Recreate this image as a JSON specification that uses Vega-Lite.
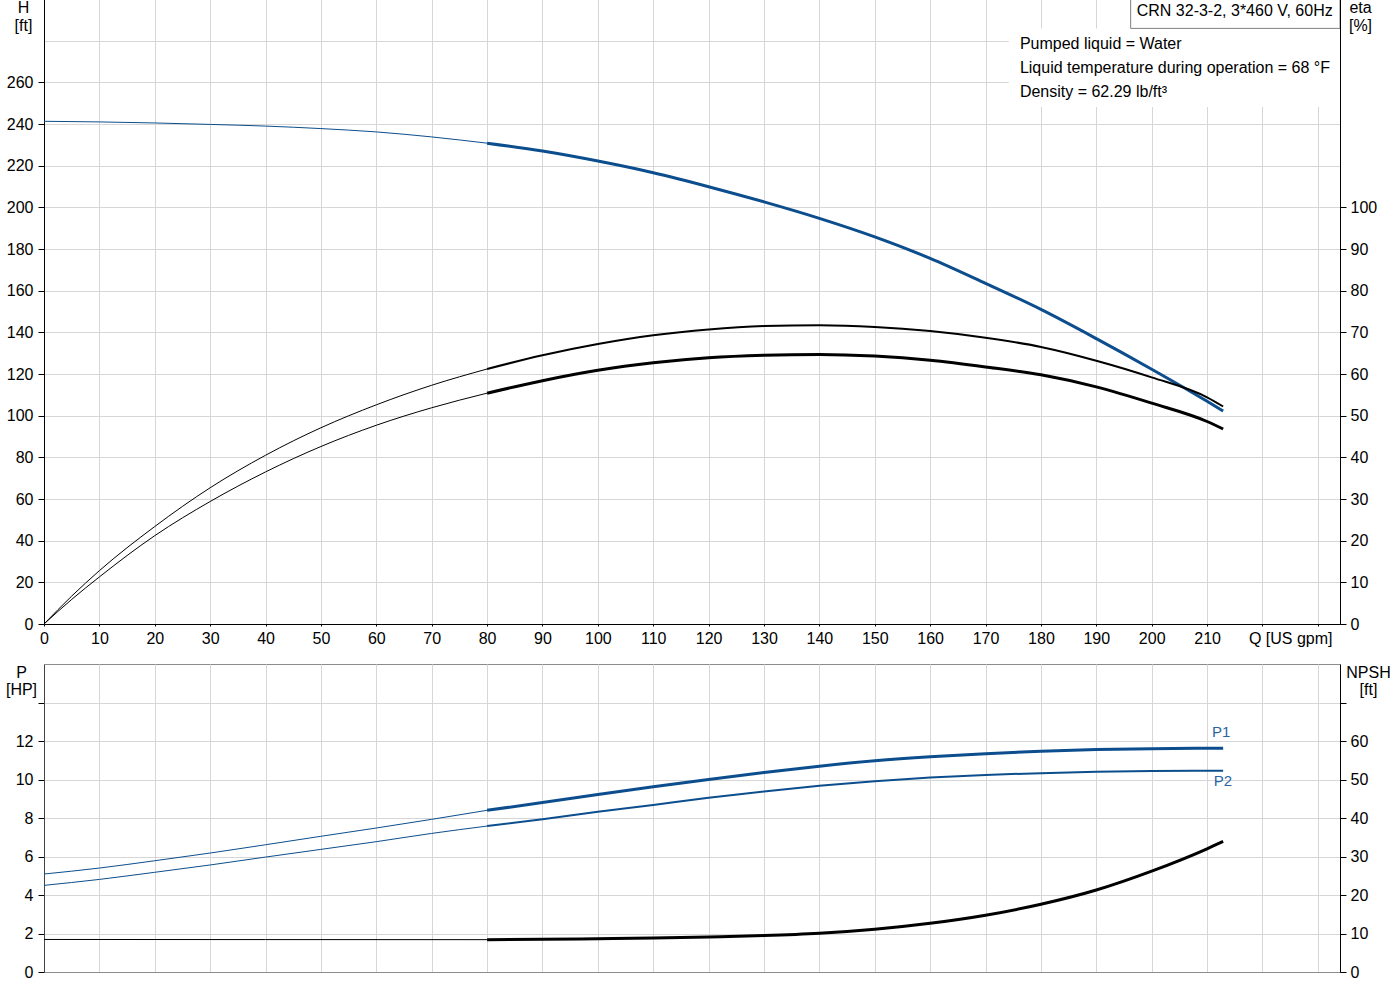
{
  "$schema": "https://vega.github.io/schema/vega-lite/v6.json",
  "description": "CRN 32-3-2 pump curves: head, efficiency, power and NPSH against flow",
  "background": "white",
  "padding": {"left": 4, "top": -2, "right": 0, "bottom": 0},
  "config": {
    "font": "Liberation Sans",
    "view": {"stroke": null},
    "axis": {
      "labelFont": "Liberation Sans", "labelFontSize": 16, "labelColor": "#000",
      "titleFont": "Liberation Sans", "titleFontSize": 16, "titleFontWeight": "normal", "titleColor": "#000",
      "gridColor": "#d6d6d6", "tickColor": "#000", "domainColor": "#000"
    },
    "text": {"font": "Liberation Sans", "fontSize": 16}
  },
  "datasets": {
    "curves": [
      {"Q": 0, "val": 241.3, "curve": "H", "range": "extended"},
      {"Q": 10, "val": 241.0, "curve": "H", "range": "extended"},
      {"Q": 20, "val": 240.5, "curve": "H", "range": "extended"},
      {"Q": 30, "val": 239.8, "curve": "H", "range": "extended"},
      {"Q": 40, "val": 239.0, "curve": "H", "range": "extended"},
      {"Q": 50, "val": 237.8, "curve": "H", "range": "extended"},
      {"Q": 60, "val": 236.2, "curve": "H", "range": "extended"},
      {"Q": 70, "val": 233.8, "curve": "H", "range": "extended"},
      {"Q": 80, "val": 230.8, "curve": "H", "range": "extended"},
      {"Q": 80, "val": 230.8, "curve": "H", "range": "duty"},
      {"Q": 90, "val": 227.0, "curve": "H", "range": "duty"},
      {"Q": 100, "val": 222.2, "curve": "H", "range": "duty"},
      {"Q": 110, "val": 216.6, "curve": "H", "range": "duty"},
      {"Q": 120, "val": 209.9, "curve": "H", "range": "duty"},
      {"Q": 130, "val": 202.6, "curve": "H", "range": "duty"},
      {"Q": 140, "val": 194.7, "curve": "H", "range": "duty"},
      {"Q": 150, "val": 185.8, "curve": "H", "range": "duty"},
      {"Q": 160, "val": 175.5, "curve": "H", "range": "duty"},
      {"Q": 170, "val": 163.5, "curve": "H", "range": "duty"},
      {"Q": 180, "val": 151.0, "curve": "H", "range": "duty"},
      {"Q": 190, "val": 137.0, "curve": "H", "range": "duty"},
      {"Q": 200, "val": 122.3, "curve": "H", "range": "duty"},
      {"Q": 210, "val": 106.9, "curve": "H", "range": "duty"},
      {"Q": 212.9, "val": 102.2, "curve": "H", "range": "duty"},

      {"Q": 0, "val": 0, "curve": "eta_pump", "range": "extended"},
      {"Q": 5, "val": 6.7, "curve": "eta_pump", "range": "extended"},
      {"Q": 10, "val": 12.8, "curve": "eta_pump", "range": "extended"},
      {"Q": 20, "val": 23.4, "curve": "eta_pump", "range": "extended"},
      {"Q": 30, "val": 32.7, "curve": "eta_pump", "range": "extended"},
      {"Q": 40, "val": 40.5, "curve": "eta_pump", "range": "extended"},
      {"Q": 50, "val": 47.1, "curve": "eta_pump", "range": "extended"},
      {"Q": 60, "val": 52.6, "curve": "eta_pump", "range": "extended"},
      {"Q": 70, "val": 57.3, "curve": "eta_pump", "range": "extended"},
      {"Q": 80, "val": 61.2, "curve": "eta_pump", "range": "extended"},
      {"Q": 80, "val": 61.2, "curve": "eta_pump", "range": "duty"},
      {"Q": 90, "val": 64.5, "curve": "eta_pump", "range": "duty"},
      {"Q": 100, "val": 67.2, "curve": "eta_pump", "range": "duty"},
      {"Q": 110, "val": 69.3, "curve": "eta_pump", "range": "duty"},
      {"Q": 120, "val": 70.7, "curve": "eta_pump", "range": "duty"},
      {"Q": 130, "val": 71.5, "curve": "eta_pump", "range": "duty"},
      {"Q": 140, "val": 71.7, "curve": "eta_pump", "range": "duty"},
      {"Q": 150, "val": 71.3, "curve": "eta_pump", "range": "duty"},
      {"Q": 160, "val": 70.3, "curve": "eta_pump", "range": "duty"},
      {"Q": 170, "val": 68.7, "curve": "eta_pump", "range": "duty"},
      {"Q": 180, "val": 66.5, "curve": "eta_pump", "range": "duty"},
      {"Q": 190, "val": 63.2, "curve": "eta_pump", "range": "duty"},
      {"Q": 200, "val": 59.2, "curve": "eta_pump", "range": "duty"},
      {"Q": 210, "val": 54.4, "curve": "eta_pump", "range": "duty"},
      {"Q": 212.9, "val": 52.2, "curve": "eta_pump", "range": "duty"},

      {"Q": 0, "val": 0, "curve": "eta_total", "range": "extended"},
      {"Q": 5, "val": 5.9, "curve": "eta_total", "range": "extended"},
      {"Q": 10, "val": 11.3, "curve": "eta_total", "range": "extended"},
      {"Q": 20, "val": 21.2, "curve": "eta_total", "range": "extended"},
      {"Q": 30, "val": 29.4, "curve": "eta_total", "range": "extended"},
      {"Q": 40, "val": 36.5, "curve": "eta_total", "range": "extended"},
      {"Q": 50, "val": 42.6, "curve": "eta_total", "range": "extended"},
      {"Q": 60, "val": 47.7, "curve": "eta_total", "range": "extended"},
      {"Q": 70, "val": 51.9, "curve": "eta_total", "range": "extended"},
      {"Q": 80, "val": 55.4, "curve": "eta_total", "range": "extended"},
      {"Q": 80, "val": 55.4, "curve": "eta_total", "range": "duty"},
      {"Q": 90, "val": 58.4, "curve": "eta_total", "range": "duty"},
      {"Q": 100, "val": 60.9, "curve": "eta_total", "range": "duty"},
      {"Q": 110, "val": 62.7, "curve": "eta_total", "range": "duty"},
      {"Q": 120, "val": 63.9, "curve": "eta_total", "range": "duty"},
      {"Q": 130, "val": 64.5, "curve": "eta_total", "range": "duty"},
      {"Q": 140, "val": 64.7, "curve": "eta_total", "range": "duty"},
      {"Q": 150, "val": 64.3, "curve": "eta_total", "range": "duty"},
      {"Q": 160, "val": 63.3, "curve": "eta_total", "range": "duty"},
      {"Q": 170, "val": 61.7, "curve": "eta_total", "range": "duty"},
      {"Q": 180, "val": 59.8, "curve": "eta_total", "range": "duty"},
      {"Q": 190, "val": 56.9, "curve": "eta_total", "range": "duty"},
      {"Q": 200, "val": 53.0, "curve": "eta_total", "range": "duty"},
      {"Q": 210, "val": 48.6, "curve": "eta_total", "range": "duty"},
      {"Q": 212.9, "val": 46.8, "curve": "eta_total", "range": "duty"},

      {"Q": 0, "val": 5.09, "curve": "P1", "range": "extended"},
      {"Q": 10, "val": 5.40, "curve": "P1", "range": "extended"},
      {"Q": 20, "val": 5.78, "curve": "P1", "range": "extended"},
      {"Q": 30, "val": 6.18, "curve": "P1", "range": "extended"},
      {"Q": 40, "val": 6.61, "curve": "P1", "range": "extended"},
      {"Q": 50, "val": 7.05, "curve": "P1", "range": "extended"},
      {"Q": 60, "val": 7.48, "curve": "P1", "range": "extended"},
      {"Q": 70, "val": 7.93, "curve": "P1", "range": "extended"},
      {"Q": 80, "val": 8.40, "curve": "P1", "range": "extended"},
      {"Q": 80, "val": 8.40, "curve": "P1", "range": "duty"},
      {"Q": 90, "val": 8.80, "curve": "P1", "range": "duty"},
      {"Q": 100, "val": 9.22, "curve": "P1", "range": "duty"},
      {"Q": 110, "val": 9.62, "curve": "P1", "range": "duty"},
      {"Q": 120, "val": 10.00, "curve": "P1", "range": "duty"},
      {"Q": 130, "val": 10.36, "curve": "P1", "range": "duty"},
      {"Q": 140, "val": 10.69, "curve": "P1", "range": "duty"},
      {"Q": 150, "val": 10.97, "curve": "P1", "range": "duty"},
      {"Q": 160, "val": 11.18, "curve": "P1", "range": "duty"},
      {"Q": 170, "val": 11.34, "curve": "P1", "range": "duty"},
      {"Q": 180, "val": 11.47, "curve": "P1", "range": "duty"},
      {"Q": 190, "val": 11.56, "curve": "P1", "range": "duty"},
      {"Q": 200, "val": 11.60, "curve": "P1", "range": "duty"},
      {"Q": 210, "val": 11.62, "curve": "P1", "range": "duty"},
      {"Q": 212.9, "val": 11.62, "curve": "P1", "range": "duty"},

      {"Q": 0, "val": 4.50, "curve": "P2", "range": "extended"},
      {"Q": 10, "val": 4.81, "curve": "P2", "range": "extended"},
      {"Q": 20, "val": 5.18, "curve": "P2", "range": "extended"},
      {"Q": 30, "val": 5.56, "curve": "P2", "range": "extended"},
      {"Q": 40, "val": 5.97, "curve": "P2", "range": "extended"},
      {"Q": 50, "val": 6.37, "curve": "P2", "range": "extended"},
      {"Q": 60, "val": 6.77, "curve": "P2", "range": "extended"},
      {"Q": 70, "val": 7.20, "curve": "P2", "range": "extended"},
      {"Q": 80, "val": 7.58, "curve": "P2", "range": "extended"},
      {"Q": 80, "val": 7.58, "curve": "P2", "range": "duty"},
      {"Q": 90, "val": 7.94, "curve": "P2", "range": "duty"},
      {"Q": 100, "val": 8.32, "curve": "P2", "range": "duty"},
      {"Q": 110, "val": 8.68, "curve": "P2", "range": "duty"},
      {"Q": 120, "val": 9.05, "curve": "P2", "range": "duty"},
      {"Q": 130, "val": 9.38, "curve": "P2", "range": "duty"},
      {"Q": 140, "val": 9.67, "curve": "P2", "range": "duty"},
      {"Q": 150, "val": 9.91, "curve": "P2", "range": "duty"},
      {"Q": 160, "val": 10.10, "curve": "P2", "range": "duty"},
      {"Q": 170, "val": 10.24, "curve": "P2", "range": "duty"},
      {"Q": 180, "val": 10.33, "curve": "P2", "range": "duty"},
      {"Q": 190, "val": 10.40, "curve": "P2", "range": "duty"},
      {"Q": 200, "val": 10.44, "curve": "P2", "range": "duty"},
      {"Q": 210, "val": 10.46, "curve": "P2", "range": "duty"},
      {"Q": 212.9, "val": 10.46, "curve": "P2", "range": "duty"},

      {"Q": 0, "val": 8.45, "curve": "NPSH", "range": "extended"},
      {"Q": 40, "val": 8.42, "curve": "NPSH", "range": "extended"},
      {"Q": 80, "val": 8.4, "curve": "NPSH", "range": "extended"},
      {"Q": 80, "val": 8.4, "curve": "NPSH", "range": "duty"},
      {"Q": 90, "val": 8.5, "curve": "NPSH", "range": "duty"},
      {"Q": 100, "val": 8.65, "curve": "NPSH", "range": "duty"},
      {"Q": 110, "val": 8.85, "curve": "NPSH", "range": "duty"},
      {"Q": 120, "val": 9.1, "curve": "NPSH", "range": "duty"},
      {"Q": 130, "val": 9.45, "curve": "NPSH", "range": "duty"},
      {"Q": 140, "val": 10.05, "curve": "NPSH", "range": "duty"},
      {"Q": 150, "val": 11.1, "curve": "NPSH", "range": "duty"},
      {"Q": 160, "val": 12.65, "curve": "NPSH", "range": "duty"},
      {"Q": 170, "val": 14.75, "curve": "NPSH", "range": "duty"},
      {"Q": 180, "val": 17.6, "curve": "NPSH", "range": "duty"},
      {"Q": 190, "val": 21.3, "curve": "NPSH", "range": "duty"},
      {"Q": 200, "val": 26.2, "curve": "NPSH", "range": "duty"},
      {"Q": 210, "val": 32.0, "curve": "NPSH", "range": "duty"},
      {"Q": 212.9, "val": 33.9, "curve": "NPSH", "range": "duty"}
    ],
    "boxes": [
      {"box": "model", "q0": 196.2, "q1": 234, "h0": 285.9, "h1": 300},
      {"box": "liquid", "q0": 174.2, "q1": 234, "h0": 248.2, "h1": 285.9}
    ],
    "notes": [
      {"note": "CRN 32-3-2, 3*460 V, 60Hz", "q": 197.3, "h": 291.7},
      {"note": "Pumped liquid = Water", "q": 176.2, "h": 276.0},
      {"note": "Liquid temperature during operation = 68 °F", "q": 176.2, "h": 264.5},
      {"note": "Density = 62.29 lb/ft³", "q": 176.2, "h": 253.1}
    ],
    "tags": [
      {"tag": "P1", "Q": 210.9, "val": 12.19},
      {"tag": "P2", "Q": 211.2, "val": 9.68}
    ]
  },
  "spacing": 40,
  "bounds": "flush",
  "vconcat": [
    {
      "width": 1296,
      "height": 625,
      "layer": [
        {
          "layer": [
            {
              "data": {"name": "curves"},
              "transform": [{"filter": "datum.curve == 'H'"}],
              "mark": {"type": "line", "interpolate": "monotone", "color": "#0c4d8d"},
              "encoding": {
                "x": {
                  "field": "Q", "type": "quantitative",
                  "scale": {"domain": [0, 234], "nice": false},
                  "axis": {
                    "values": [0, 10, 20, 30, 40, 50, 60, 70, 80, 90, 100, 110, 120, 130, 140, 150, 160, 170, 180, 190, 200, 210, 220, 230],
                    "labelExpr": "datum.value > 210 ? '' : datum.label",
                    "tickSize": 2, "labelPadding": 4, "labelFlush": false, "labelOverlap": false,
                    "title": "Q [US gpm]", "titleAlign": "right", "titleAnchor": null,
                    "titleX": 1288, "titleY": 6, "titleBaseline": "top"
                  }
                },
                "y": {
                  "field": "val", "type": "quantitative",
                  "scale": {"domain": [0, 300], "nice": false},
                  "axis": {
                    "values": [0, 20, 40, 60, 80, 100, 120, 140, 160, 180, 200, 220, 240, 260, 280],
                    "labelExpr": "datum.value > 260 ? '' : datum.label",
                    "tickOpacity": {"condition": {"test": "datum.value > 260", "value": 0}, "value": 1},
                    "tickSize": 6, "labelPadding": 5, "labelFlush": false, "labelOverlap": false,
                    "title": ["H", "[ft]"], "titleAngle": 0, "titleAlign": "center", "titleBaseline": "top",
                    "titleX": -21, "titleY": 0, "titleLineHeight": 18
                  }
                },
                "detail": {"field": "range"},
                "strokeWidth": {"condition": {"test": "datum.range == 'extended'", "value": 1}, "value": 3}
              }
            },
            {
              "data": {"name": "boxes"},
              "transform": [{"filter": "datum.box == 'liquid'"}],
              "mark": {"type": "rect", "fill": "white", "strokeWidth": 0},
              "encoding": {
                "x": {"field": "q0", "type": "quantitative", "scale": {"domain": [0, 234], "nice": false}},
                "x2": {"field": "q1"},
                "y": {"field": "h0", "type": "quantitative", "scale": {"domain": [0, 300], "nice": false}},
                "y2": {"field": "h1"}
              }
            },
            {
              "data": {"name": "boxes"},
              "transform": [{"filter": "datum.box == 'model'"}],
              "mark": {"type": "rect", "fill": "white", "stroke": "#808080", "strokeWidth": 1},
              "encoding": {
                "x": {"field": "q0", "type": "quantitative", "scale": {"domain": [0, 234], "nice": false}},
                "x2": {"field": "q1"},
                "y": {"field": "h0", "type": "quantitative", "scale": {"domain": [0, 300], "nice": false}},
                "y2": {"field": "h1"}
              }
            },
            {
              "data": {"name": "notes"},
              "mark": {"type": "text", "align": "left", "baseline": "alphabetic", "fontSize": 16, "color": "#000"},
              "encoding": {
                "x": {"field": "q", "type": "quantitative", "scale": {"domain": [0, 234], "nice": false}},
                "y": {"field": "h", "type": "quantitative", "scale": {"domain": [0, 300], "nice": false}},
                "text": {"field": "note"}
              }
            }
          ]
        },
        {
          "data": {"name": "curves"},
          "transform": [{"filter": "datum.curve == 'eta_pump' || datum.curve == 'eta_total'"}],
          "mark": {"type": "line", "interpolate": "monotone", "color": "#000"},
          "encoding": {
            "x": {"field": "Q", "type": "quantitative", "scale": {"domain": [0, 234], "nice": false}},
            "y": {
              "field": "val", "type": "quantitative",
              "scale": {"domain": [0, 150], "nice": false},
              "axis": {
                "orient": "right", "grid": false, "zindex": 1,
                "values": [0, 10, 20, 30, 40, 50, 60, 70, 80, 90, 100],
                "tickSize": 6, "labelPadding": 4, "labelFlush": false, "labelOverlap": false,
                "title": ["eta", "[%]"], "titleAngle": 0, "titleAlign": "center", "titleBaseline": "top",
                "titleX": 20, "titleY": 0, "titleLineHeight": 18
              }
            },
            "detail": [{"field": "curve"}, {"field": "range"}],
            "strokeWidth": {
              "condition": [
                {"test": "datum.range == 'extended'", "value": 1},
                {"test": "datum.curve == 'eta_pump'", "value": 2}
              ],
              "value": 3
            }
          }
        }
      ],
      "resolve": {"scale": {"y": "independent"}, "axis": {"y": "independent"}}
    },
    {
      "width": 1296,
      "height": 308,
      "view": {"stroke": "#8c8c8c"},
      "layer": [
        {
          "layer": [
            {
              "data": {"name": "curves"},
              "transform": [{"filter": "datum.curve == 'P1' || datum.curve == 'P2'"}],
              "mark": {"type": "line", "interpolate": "monotone", "color": "#0c4d8d"},
              "encoding": {
                "x": {
                  "field": "Q", "type": "quantitative",
                  "scale": {"domain": [0, 234], "nice": false},
                  "axis": {
                    "values": [0, 10, 20, 30, 40, 50, 60, 70, 80, 90, 100, 110, 120, 130, 140, 150, 160, 170, 180, 190, 200, 210, 220, 230],
                    "labels": false, "ticks": false, "domainColor": "#8c8c8c", "title": null
                  }
                },
                "y": {
                  "field": "val", "type": "quantitative",
                  "scale": {"domain": [0, 16], "nice": false},
                  "axis": {
                    "values": [0, 2, 4, 6, 8, 10, 12, 14],
                    "labelExpr": "datum.value > 12 ? '' : datum.label",
                    "tickSize": 6, "labelPadding": 5, "labelFlush": false, "labelOverlap": false,
                    "domainColor": "#444",
                    "title": ["P", "[HP]"], "titleAngle": 0, "titleAlign": "center", "titleBaseline": "top",
                    "titleX": -23, "titleY": 0, "titleLineHeight": 17
                  }
                },
                "detail": [{"field": "curve"}, {"field": "range"}],
                "strokeWidth": {
                  "condition": [
                    {"test": "datum.range == 'extended'", "value": 1},
                    {"test": "datum.curve == 'P2'", "value": 2}
                  ],
                  "value": 3
                }
              }
            },
            {
              "data": {"name": "tags"},
              "mark": {"type": "text", "align": "left", "baseline": "alphabetic", "fontSize": 15, "color": "#2a65a3"},
              "encoding": {
                "x": {"field": "Q", "type": "quantitative", "scale": {"domain": [0, 234], "nice": false}},
                "y": {"field": "val", "type": "quantitative", "scale": {"domain": [0, 16], "nice": false}},
                "text": {"field": "tag"}
              }
            }
          ]
        },
        {
          "data": {"name": "curves"},
          "transform": [{"filter": "datum.curve == 'NPSH'"}],
          "mark": {"type": "line", "interpolate": "monotone", "color": "#000"},
          "encoding": {
            "x": {"field": "Q", "type": "quantitative", "scale": {"domain": [0, 234], "nice": false}},
            "y": {
              "field": "val", "type": "quantitative",
              "scale": {"domain": [0, 80], "nice": false},
              "axis": {
                "orient": "right", "grid": false, "zindex": 1,
                "values": [0, 10, 20, 30, 40, 50, 60, 70],
                "labelExpr": "datum.value > 60 ? '' : datum.label",
                "tickSize": 6, "labelPadding": 4, "labelFlush": false, "labelOverlap": false,
                "title": ["NPSH", "[ft]"], "titleAngle": 0, "titleAlign": "center", "titleBaseline": "top",
                "titleX": 28, "titleY": 0, "titleLineHeight": 17
              }
            },
            "detail": {"field": "range"},
            "strokeWidth": {"condition": {"test": "datum.range == 'extended'", "value": 1}, "value": 3}
          }
        }
      ],
      "resolve": {"scale": {"y": "independent"}, "axis": {"y": "independent"}}
    }
  ]
}
